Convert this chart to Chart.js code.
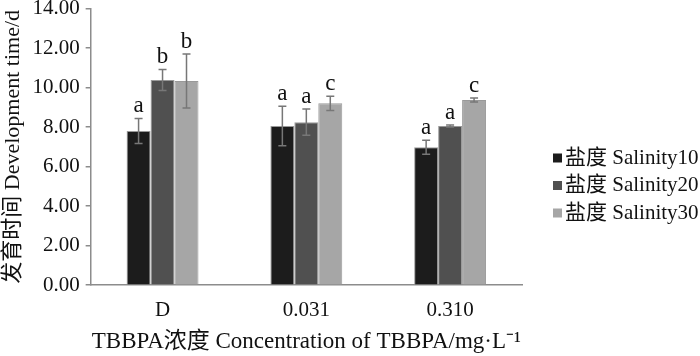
<!DOCTYPE html>
<html><head><meta charset="utf-8">
<script src="https://cdn.jsdelivr.net/npm/chart.js@4/dist/chart.umd.min.js"></script>
<style>html,body{margin:0;padding:0;background:#fff}#wrap{width:700px;height:356px}</style>
</head><body><div id="wrap"><canvas id="c" width="700" height="356"></canvas></div>
<script>
const categories = ['D', '0.031', '0.310'];
const seriesNames = ['盐度 Salinity10', '盐度 Salinity20', '盐度 Salinity30'];
const salinity10 = [7.80, 8.05, 6.98];
const salinity20 = [10.38, 8.25, 8.05];
const salinity30 = [10.33, 9.20, 9.37];
const err10 = [0.63, 1.00, 0.35];
const err20 = [0.53, 0.66, 0.05];
const err30 = [1.37, 0.36, 0.10];
const letters10 = ['a', 'a', 'a'];
const letters20 = ['b', 'a', 'a'];
const letters30 = ['b', 'c', 'c'];
const yTicks = [0, 2, 4, 6, 8, 10, 12, 14];

const colors = ['#1c1c1c', '#505050', '#a6a6a6'];
const FONT = '"Liberation Serif", "Noto Sans CJK SC", serif';

const values = [salinity10, salinity20, salinity30];
const errors = [err10, err20, err30];
const letters = [letters10, letters20, letters30];

const errPlugin = {
  id: 'errbars',
  afterDatasetsDraw(chart) {
    const ctx = chart.ctx, y = chart.scales.y;
    ctx.save();
    chart.data.datasets.forEach((ds, i) => {
      const meta = chart.getDatasetMeta(i);
      meta.data.forEach((el, j) => {
        const v = ds.data[j], e = ds.errors[j];
        const top = y.getPixelForValue(v + e), bot = y.getPixelForValue(v - e);
        ctx.strokeStyle = '#777';
        ctx.lineWidth = 1.5;
        ctx.beginPath();
        ctx.moveTo(el.x, top); ctx.lineTo(el.x, bot);
        ctx.moveTo(el.x - 4, top); ctx.lineTo(el.x + 4, top);
        ctx.moveTo(el.x - 4, bot); ctx.lineTo(el.x + 4, bot);
        ctx.stroke();
        ctx.fillStyle = '#111';
        ctx.font = '23px ' + FONT;
        ctx.textAlign = 'center';
        ctx.textBaseline = 'bottom';
        ctx.fillText(ds.letters[j], el.x, top - 1);
      });
    });
    ctx.restore();
  }
};

const legendPlugin = {
  id: 'customLegend',
  afterDraw(chart) {
    const ctx = chart.ctx;
    ctx.save();
    ctx.font = '21px ' + FONT;
    ctx.textBaseline = 'middle';
    ctx.textAlign = 'left';
    chart.data.datasets.forEach((ds, i) => {
      const cy = 158 + i * 27.5;
      ctx.fillStyle = ds.backgroundColor;
      ctx.fillRect(553, cy - 4.5, 9, 9);
      ctx.fillStyle = '#111';
      ctx.fillText(ds.label, 565, cy);
    });
    ctx.restore();
  }
};

new Chart(document.getElementById('c'), {
  type: 'bar',
  data: {
    labels: categories,
    datasets: seriesNames.map((n, i) => ({
      label: n,
      data: values[i],
      errors: errors[i],
      letters: letters[i],
      backgroundColor: colors[i],
      borderColor: '#999',
      borderWidth: 1,
      categoryPercentage: 0.5,
      barPercentage: 1.0
    }))
  },
  options: {
    responsive: false,
    animation: false,
    layout: { padding: { left: 0, right: 178, top: 0, bottom: 0 } },
    plugins: { legend: { display: false }, tooltip: { enabled: false } },
    scales: {
      x: {
        grid: { display: false },
        border: { display: true, color: '#8c8c8c', width: 1.5 },
        ticks: { color: '#111', font: { family: FONT, size: 21 }, padding: 5 },
        title: { display: true, text: 'TBBPA浓度 Concentration of TBBPA/mg·L⁻¹', color: '#111',
                 font: { family: FONT, size: 23 }, padding: { top: 0, bottom: 0 } }
      },
      y: {
        min: 0, max: 14,
        afterBuildTicks(axis) { axis.ticks = yTicks.map(v => ({ value: v })); },
        afterFit(axis) { axis.paddingTop = 8.5; },
        grid: { drawOnChartArea: false, drawTicks: true, tickLength: 5, color: '#8c8c8c', lineWidth: 1.5 },
        border: { display: true, color: '#8c8c8c', width: 1.5 },
        ticks: { color: '#111', font: { family: FONT, size: 21 }, padding: 6,
                 callback: v => Number(v).toFixed(2) },
        title: { display: true, text: '发育时间 Development time/d', color: '#111',
                 font: { family: FONT, size: 22 }, padding: { top: 0, bottom: 0 } }
      }
    }
  },
  plugins: [errPlugin, legendPlugin]
});
</script></body></html>
